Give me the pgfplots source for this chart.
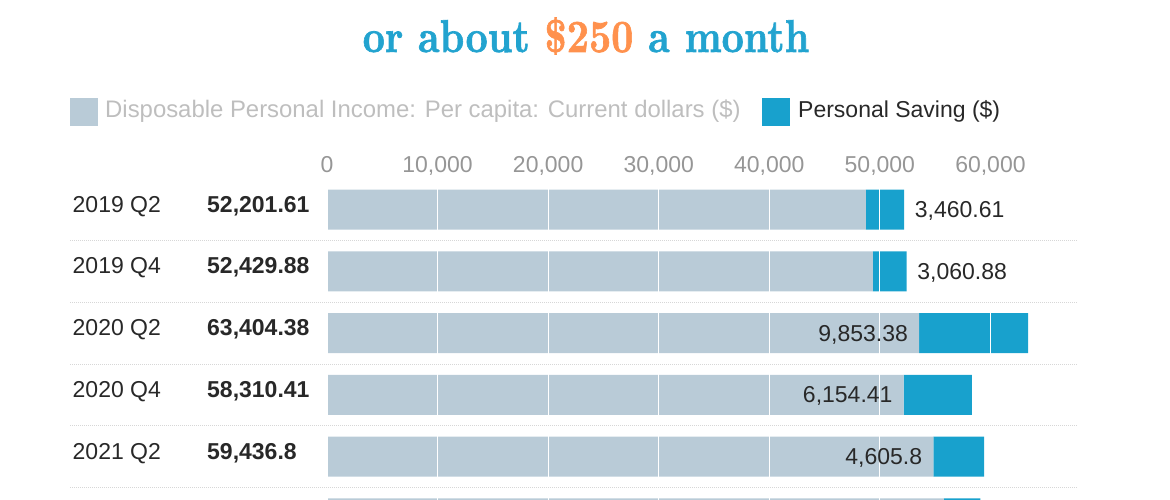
\documentclass[border=0pt]{standalone}
\usepackage{pgfplots}
\pgfplotsset{compat=1.18}
\usepackage{pgfplotstable}
\usepackage{fontspec}
\newfontfamily\sans{Liberation Sans}
\newfontfamily\titlefont{lmroman10-bold.otf}[FakeBold=1.5]
\definecolor{greybar}{RGB}{185,203,215}
\definecolor{bluebar}{RGB}{24,161,205}
\definecolor{titleblue}{RGB}{34,163,207}
\definecolor{titleorange}{RGB}{255,145,77}
\definecolor{tickgrey}{RGB}{150,150,150}
\definecolor{leggrey}{RGB}{190,190,190}
\definecolor{darktext}{RGB}{40,40,40}
\definecolor{sepgrey}{RGB}{215,215,215}

\pgfplotstableread{
y rest saving
0 48741.00 3460.61
-1 49369.00 3060.88
-2 53551.00 9853.38
-3 52156.00 6154.41
-4 54831.00 4605.80
-5 55800.00 3300.00
}\datatable

\newcommand{\lbl}{\sans\fontsize{23}{27}\selectfont}

\begin{document}
\begin{tikzpicture}
\useasboundingbox (0,0) rectangle (1170pt,-500pt);
% title (second line)
\node[anchor=base, inner sep=0pt, text=titleblue] at (586pt,-52pt)
  {\scalebox{0.84}[1]{\titlefont\fontsize{46}{54}\selectfont or about \textcolor{titleorange}{\$250} a month}};
% legend
\fill[greybar] (70pt,-98pt) rectangle (98pt,-126pt);
\node[anchor=base west, inner sep=0pt, text=leggrey, font=\sans\fontsize{23.9}{27}\selectfont] at (105pt,-118pt)
  {Disposable Personal Income: Per capita: Current dollars (\$)};
\fill[bluebar] (762pt,-98pt) rectangle (790pt,-126pt);
\node[anchor=base west, inner sep=0pt, text=darktext, font=\lbl] at (798pt,-118pt)
  {Personal Saving (\$)};

\begin{axis}[
  at={(327pt,-185pt)}, anchor=north west,
  scale only axis, width=774pt, height=364.3pt,
  xmin=0, xmax=70000, ymin=-5.5, ymax=0.4,
  xbar stacked, bar width=40pt,
  axis line style={draw=none}, major tick length=0pt,
  scaled x ticks=false,
  xtick={0,10000,20000,30000,40000,50000,60000},
  xticklabels={0,{10,000},{20,000},{30,000},{40,000},{50,000},{60,000}},
  xticklabel pos=upper,
  xticklabel style={font=\lbl, text=tickgrey, anchor=base, inner sep=0pt, yshift=12pt},
  ytick={0,-1,-2,-3,-4},
  yticklabels={
    {\makebox[134.5pt][l]{2019 Q2}\textbf{52,201.61}},
    {\makebox[134.5pt][l]{2019 Q4}\textbf{52,429.88}},
    {\makebox[134.5pt][l]{2020 Q2}\textbf{63,404.38}},
    {\makebox[134.5pt][l]{2020 Q4}\textbf{58,310.41}},
    {\makebox[134.5pt][l]{2021 Q2}\textbf{59,436.8}}},
  yticklabel style={font=\lbl, text=darktext, anchor=base west, inner sep=0pt, xshift=-254.5pt, yshift=-2.5pt},
  xmajorgrids, grid style={white, line width=1.2pt},
  axis on top,
  clip=false,
]
\addplot[fill=greybar, draw=none] table[x=rest, y=y]{\datatable};
\addplot[fill=bluebar, draw=none] table[x=saving, y=y]{\datatable};

\pgfplotsinvokeforeach{1,2,3,4,5}{
  \coordinate (sepL#1) at (axis cs:-23237,-#1+0.5);
  \coordinate (sepR#1) at (axis cs:67812,-#1+0.5);
}
\coordinate (e1) at (axis cs:52201.61,0);
\coordinate (e2) at (axis cs:52429.88,-1);
\coordinate (e3) at (axis cs:53551,-2);
\coordinate (e4) at (axis cs:52156,-3);
\coordinate (e5) at (axis cs:54831,-4);
\end{axis}

\foreach \i in {1,...,5}{
  \draw[sepgrey, line width=1pt, dash pattern=on 1pt off 1pt] (sepL\i) -- (sepR\i);
}
\node[anchor=base west, inner sep=0pt, font=\lbl, text=darktext, xshift=10.5pt, yshift=-8pt] at (e1) {3,460.61};
\node[anchor=base west, inner sep=0pt, font=\lbl, text=darktext, xshift=10.5pt, yshift=-8pt] at (e2) {3,060.88};
\node[anchor=base east, inner sep=0pt, font=\lbl, text=darktext, xshift=-11pt, yshift=-8pt] at (e3) {9,853.38};
\node[anchor=base east, inner sep=0pt, font=\lbl, text=darktext, xshift=-11pt, yshift=-8pt] at (e4) {6,154.41};
\node[anchor=base east, inner sep=0pt, font=\lbl, text=darktext, xshift=-11pt, yshift=-8pt] at (e5) {4,605.8};
\end{tikzpicture}
\end{document}
